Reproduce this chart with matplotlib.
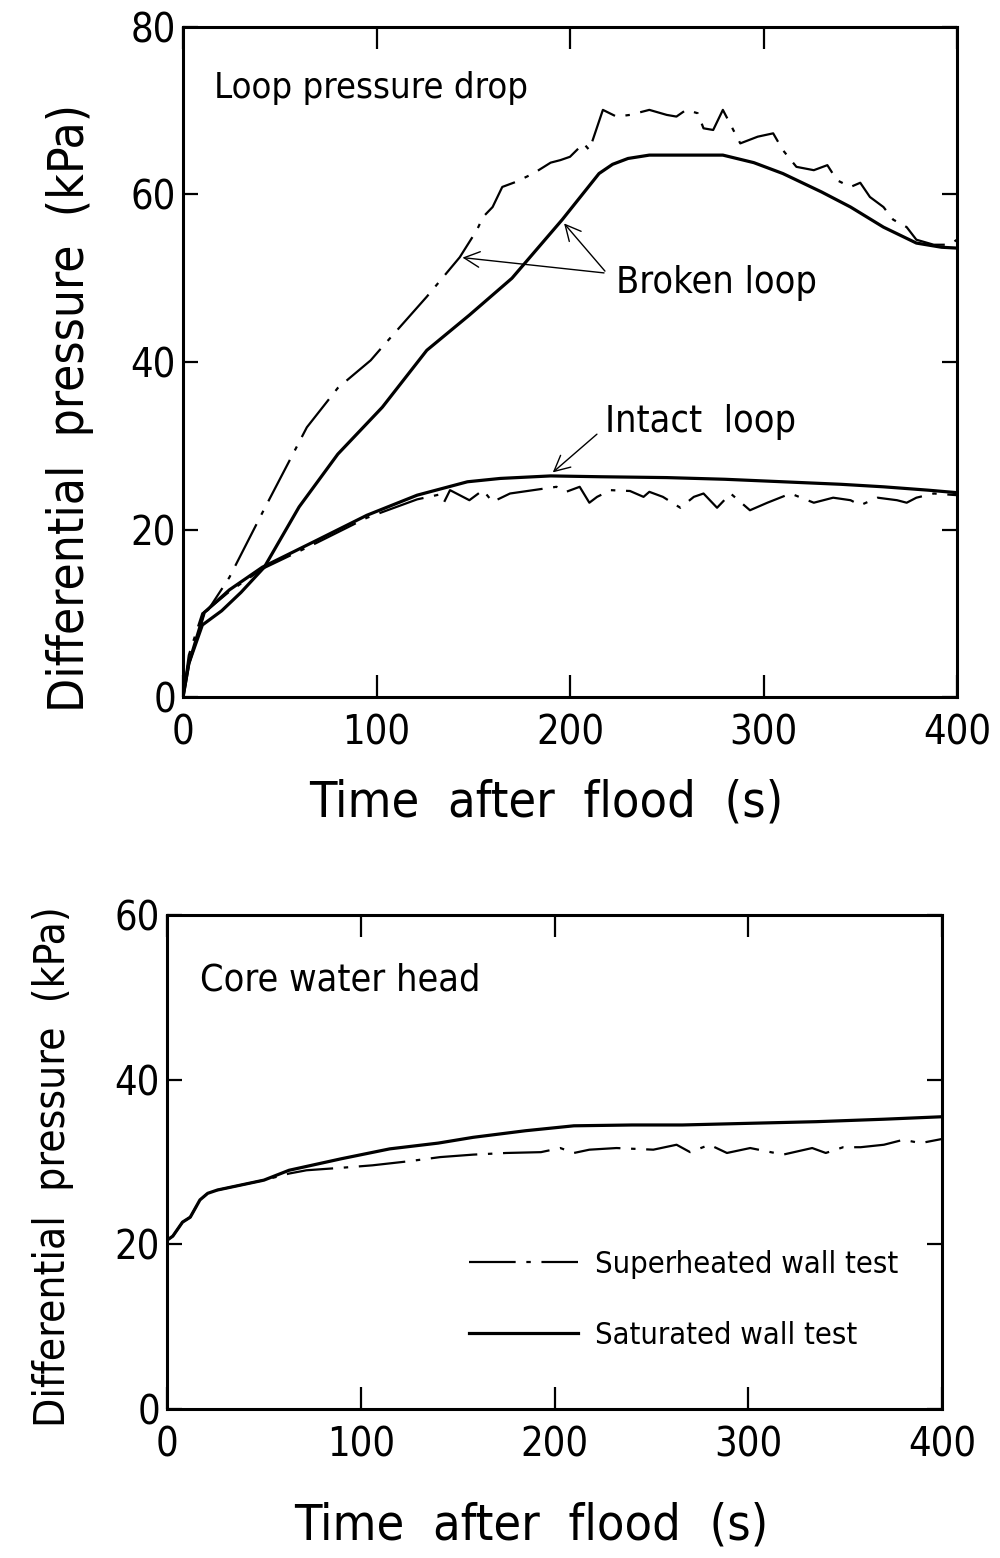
import matplotlib
matplotlib.use("Agg")
from matplotlib import pyplot as plt
from matplotlib import font_manager

# use a narrow face if the machine has one, the scanned lettering is condensed
installed = font_manager.fontManager.ttflist
names = {f.name for f in installed}
condensed_dejavu = [f for f in installed if f.name == 'DejaVu Sans' and 'ondensed' in str(f.stretch) + f.fname]
if 'Liberation Sans Narrow' in names:
    plt.rcParams['font.family'] = ['Liberation Sans Narrow', 'DejaVu Sans']
    scale = 1.0
elif condensed_dejavu:
    plt.rcParams['font.family'] = ['DejaVu Sans']
    plt.rcParams['font.stretch'] = 'condensed'
    scale = 0.95
else:
    plt.rcParams['font.family'] = ['Roboto', 'DejaVu Sans']
    scale = 0.85

# top panel: loop pressure drop (kPa) vs time after flood (s)
broken_solid_t = [0, 3, 10, 20, 30, 42, 60, 80, 103, 126, 148, 170, 196, 215, 222, 230, 241,
                  260, 279, 295, 310, 330, 345, 362, 379, 392, 400]
broken_solid_p = [0, 4, 8.6, 10.3, 12.5, 15.5, 22.7, 29, 34.6, 41.4, 45.6, 50, 57, 62.5, 63.6, 64.3, 64.7,
                  64.7, 64.7, 63.8, 62.5, 60.3, 58.5, 56.1, 54.2, 53.7, 53.6]

broken_dash_t = [0, 3, 10, 13, 24, 41, 64, 80, 97, 103, 126, 143, 152, 155, 160, 165, 172, 181,
                 190, 195, 200, 207, 210, 217, 224, 231, 241, 250, 255, 260, 266, 269, 274, 279,
                 288, 297, 305, 310, 317, 326, 333, 338, 345, 350, 355, 362, 367, 374, 379, 388,
                 396, 400]
broken_dash_p = [0, 5, 10, 10.4, 14.3, 22, 32.2, 36.9, 40.2, 41.8, 47.8, 52.5, 55.8, 57.3, 58.5,
                 60.9, 61.5, 62.5, 63.8, 64.1, 64.5, 66.1, 65.3, 70.1, 69.3, 69.5, 70.1, 69.5, 69.3,
                 70.1, 69.7, 67.9, 67.7, 70.1, 66.1, 66.9, 67.3, 65.3, 63.3, 62.9, 63.5, 61.7, 60.9,
                 61.4, 59.7, 58.5, 57.0, 56.1, 54.6, 54.0, 54.0, 54.6]

intact_solid_t = [0, 3, 11, 24, 41, 69, 95, 121, 147, 164, 190, 216, 250, 280, 310, 340, 362, 385, 400]
intact_solid_p = [0, 4, 10.1, 12.8, 15.5, 18.7, 21.7, 24.1, 25.7, 26.1, 26.4, 26.3, 26.2, 26.0,
                  25.7, 25.4, 25.1, 24.7, 24.4]

intact_dash_t = [0, 3, 11, 24, 41, 69, 95, 121, 133, 135, 138, 148, 155, 160, 169, 181, 193, 198,
                 205, 210, 214, 221, 231, 238, 241, 248, 257, 264, 269, 276, 283, 288, 293, 302,
                 314, 326, 336, 345, 350, 359, 369, 374, 379, 388, 400]
intact_dash_p = [0, 4, 10.1, 12.6, 15.3, 18.4, 21.4, 23.6, 24.2, 23.3, 24.7, 23.5, 24.7, 23.3,
                 24.3, 24.7, 25.1, 24.5, 25.1, 23.2, 23.9, 24.7, 24.6, 23.9, 24.5, 23.9, 22.6,
                 23.9, 24.3, 22.6, 24.3, 23.3, 22.3, 23.2, 24.3, 23.2, 23.8, 23.5, 22.9, 23.8,
                 23.5, 23.2, 23.8, 24.3, 24.1]

# bottom panel: core water head
saturated_t = [0, 3, 8, 12, 17, 21, 26, 38, 50, 63, 90, 115, 140, 158, 185, 210, 240, 266,
               300, 335, 370, 400]
saturated_p = [20.5, 21, 22.7, 23.3, 25.4, 26.2, 26.6, 27.2, 27.8, 29.0, 30.4, 31.6, 32.3, 33.0,
               33.8, 34.4, 34.5, 34.5, 34.7, 34.9, 35.2, 35.5]

superheated_t = [0, 3, 8, 12, 17, 21, 26, 38, 50, 63, 72, 90, 106, 125, 141, 158, 175, 193, 203,
                 210, 218, 232, 251, 263, 270, 280, 289, 301, 318, 333, 340, 349, 358, 370, 380,
                 389, 400]
superheated_p = [20.5, 21, 22.7, 23.3, 25.4, 26.2, 26.6, 27.2, 27.8, 28.6, 29.0, 29.3, 29.6, 30.1,
                 30.6, 30.9, 31.1, 31.2, 31.7, 31.1, 31.5, 31.7, 31.5, 32.1, 31.2, 32.1, 31.1,
                 31.7, 30.9, 31.7, 31.1, 31.8, 31.8, 32.1, 32.7, 32.3, 32.8]

x_ticks = [0, 100, 200, 300, 400]
top_y_ticks = [0, 20, 40, 60, 80]
bottom_y_ticks = [0, 20, 40, 60]

dashdot = (0, (21, 4.8, 2, 4.8))
solid_lw = 2.3
dash_lw = 1.6


def style_axes(ax, yticks, ylabel_size):
    ax.set_xlim(0, 400)
    ax.set_ylim(yticks[0], yticks[-1])
    ax.set_xticks(x_ticks)
    ax.set_yticks(yticks)
    for spine in ax.spines.values():
        spine.set_linewidth(2.2)
    ax.tick_params(axis='both', direction='in', top=True, right=True,
                   width=1.6, labelsize=30 * scale)
    ax.tick_params(axis='x', length=16, pad=12)
    ax.tick_params(axis='y', length=11, pad=5)
    ax.set_xlabel('Time  after  flood  (s)', fontsize=38 * scale)
    ax.set_ylabel('Differential  pressure  (kPa)', fontsize=ylabel_size * scale)


fig = plt.figure(figsize=(10, 15.58), dpi=100)

ax1 = fig.add_axes([0.183, 0.5526, 0.774, 0.4301])
ax1.plot(broken_solid_t, broken_solid_p, color='k', lw=solid_lw)
ax1.plot(broken_dash_t, broken_dash_p, color='k', lw=dash_lw, linestyle=dashdot)
ax1.plot(intact_solid_t, intact_solid_p, color='k', lw=solid_lw)
ax1.plot(intact_dash_t, intact_dash_p, color='k', lw=dash_lw, linestyle=dashdot)
style_axes(ax1, top_y_ticks, 37.5)
ax1.xaxis.set_label_coords(0.469, -0.121)
ax1.yaxis.set_label_coords(-0.115, 0.431)

ax1.text(16, 72.7, 'Loop pressure drop', fontsize=27.5 * scale, va='center', ha='left')
arrow = dict(arrowstyle='->', color='k', lw=1.0, mutation_scale=28)
ax1.annotate('', xy=(143, 52.5), xytext=(219, 50.6), arrowprops=arrow)
ax1.annotate('', xy=(196, 56.8), xytext=(219, 50.6), arrowprops=arrow)
ax1.text(224, 49.4, 'Broken loop', fontsize=28.5 * scale, va='center', ha='left')
ax1.annotate('', xy=(190, 26.6), xytext=(215, 31.6), arrowprops=arrow)
ax1.text(218, 32.8, 'Intact  loop', fontsize=28.5 * scale, va='center', ha='left')

ax2 = fig.add_axes([0.167, 0.0956, 0.775, 0.3171])
ax2.plot(superheated_t, superheated_p, color='k', lw=dash_lw, linestyle=dashdot,
         label='Superheated wall test')
ax2.plot(saturated_t, saturated_p, color='k', lw=solid_lw, label='Saturated wall test')
style_axes(ax2, bottom_y_ticks, 32)
ax2.xaxis.set_label_coords(0.47, -0.188)
ax2.yaxis.set_label_coords(-0.12, 0.49)
ax2.text(17, 52.1, 'Core water head', fontsize=28.5 * scale, va='center', ha='left')
ax2.legend(loc='upper left', bbox_to_anchor=(0.37, 0.354), frameon=False, fontsize=23.3 * scale,
           handlelength=3.55, handletextpad=0.55, labelspacing=1.37, borderpad=0)

fig.savefig('out.png', dpi=100)
